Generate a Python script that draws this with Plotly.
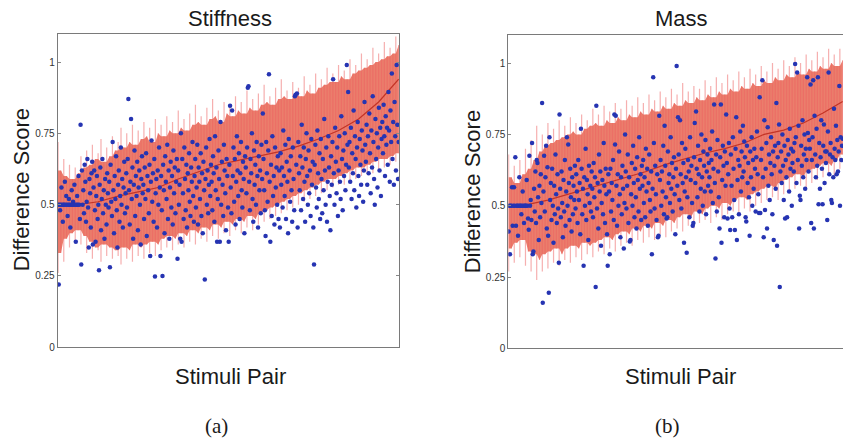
import numpy as np
import plotly.graph_objects as go

# ---------------- data ----------------
stiff_scores = [
    0.50, 0.22, 0.50, 0.48, 0.50, 0.56, 0.50, 0.44, 0.50, 0.50, 0.58, 0.50, 0.53, 0.50, 0.46, 0.50, 0.52, 0.50, 0.42, 0.50, 0.55, 0.50, 0.51, 0.50, 0.57,
    0.50, 0.37, 0.50, 0.53, 0.50, 0.60, 0.50, 0.45, 0.78, 0.29, 0.62, 0.50, 0.55, 0.47, 0.64, 0.58, 0.44, 0.51, 0.66, 0.49, 0.35, 0.59, 0.54, 0.42, 0.61,
    0.65, 0.36, 0.56, 0.62, 0.48, 0.37, 0.53, 0.60, 0.45, 0.50, 0.27, 0.57, 0.63, 0.41, 0.52, 0.66, 0.47, 0.55, 0.38, 0.59, 0.50, 0.43, 0.61, 0.54, 0.49,
    0.58, 0.28, 0.64, 0.51, 0.46, 0.72, 0.55, 0.40, 0.60, 0.52, 0.67, 0.48, 0.35, 0.57, 0.62, 0.44, 0.53, 0.70, 0.50, 0.59, 0.42, 0.56, 0.65, 0.47, 0.54,
    0.61, 0.49, 0.66, 0.87, 0.55, 0.43, 0.58, 0.80, 0.52, 0.63, 0.38, 0.57, 0.69, 0.46, 0.60, 0.53, 0.65, 0.41, 0.56, 0.62, 0.50, 0.36, 0.59, 0.67, 0.54,
    0.57, 0.45, 0.63, 0.52, 0.68, 0.39, 0.60, 0.55, 0.47, 0.64, 0.32, 0.58, 0.725, 0.51, 0.61, 0.44, 0.66, 0.248, 0.54, 0.59, 0.42, 0.62, 0.50, 0.70, 0.56,
    0.32, 0.60, 0.48, 0.25, 0.64, 0.55, 0.40, 0.67, 0.58, 0.52, 0.71, 0.45, 0.62, 0.38, 0.56, 0.65, 0.49, 0.60, 0.43, 0.69, 0.54, 0.63, 0.47, 0.58, 0.66,
    0.31, 0.62, 0.50, 0.57, 0.38, 0.75, 0.37, 0.66, 0.54, 0.45, 0.70, 0.59, 0.48, 0.64, 0.42, 0.61, 0.55, 0.68, 0.51, 0.46, 0.63, 0.58, 0.72, 0.53, 0.44,
    0.60, 0.66, 0.49, 0.56, 0.71, 0.43, 0.63, 0.58, 0.52, 0.68, 0.46, 0.61, 0.40, 0.65, 0.55, 0.237, 0.59, 0.70, 0.50, 0.62, 0.47, 0.57, 0.73, 0.53, 0.64,
    0.58, 0.48, 0.67, 0.61, 0.44, 0.74, 0.55, 0.63, 0.37, 0.52, 0.69, 0.59, 0.37, 0.79, 0.50, 0.65, 0.57, 0.46, 0.71, 0.62, 0.54, 0.41, 0.66, 0.60, 0.49,
    0.37, 0.64, 0.847, 0.56, 0.47, 0.83, 0.60, 0.70, 0.51, 0.66, 0.43, 0.58, 0.74, 0.62, 0.53, 0.68, 0.45, 0.61, 0.72, 0.55, 0.49, 0.65, 0.59, 0.40, 0.67,
    0.63, 0.54, 0.70, 0.91, 0.915, 0.58, 0.48, 0.66, 0.61, 0.75, 0.52, 0.44, 0.69, 0.57, 0.64, 0.50, 0.72, 0.60, 0.42, 0.67, 0.55, 0.62, 0.47, 0.71, 0.59,
    0.82, 0.66, 0.55, 0.48, 0.39, 0.72, 0.61, 0.51, 0.69, 0.957, 0.58, 0.37, 0.64, 0.46, 0.74, 0.53, 0.60, 0.43, 0.70, 0.56, 0.63, 0.50, 0.67, 0.45, 0.62,
    0.42, 0.68, 0.57, 0.63, 0.49, 0.76, 0.60, 0.53, 0.71, 0.45, 0.65, 0.58, 0.40, 0.73, 0.62, 0.51, 0.67, 0.55, 0.44, 0.70, 0.59, 0.48, 0.88, 0.885, 0.64,
    0.89, 0.42, 0.72, 0.61, 0.55, 0.67, 0.48, 0.78, 0.63, 0.52, 0.70, 0.58, 0.44, 0.66, 0.75, 0.60, 0.50, 0.69, 0.54, 0.62, 0.46, 0.73, 0.57, 0.65, 0.42,
    0.29, 0.64, 0.71, 0.56, 0.49, 0.76, 0.61, 0.52, 0.68, 0.45, 0.73, 0.59, 0.47, 0.66, 0.55, 0.80, 0.62, 0.50, 0.70, 0.44, 0.58, 0.74, 0.63, 0.53, 0.41,
    0.67, 0.57, 0.72, 0.94, 0.61, 0.50, 0.77, 0.65, 0.54, 0.70, 0.46, 0.62, 0.74, 0.58, 0.52, 0.81, 0.66, 0.48, 0.69, 0.60, 0.75, 0.55, 0.64, 0.99, 0.71,
    0.895, 0.63, 0.72, 0.58, 0.77, 0.52, 0.68, 0.61, 0.83, 0.55, 0.74, 0.66, 0.49, 0.70, 0.79, 0.60, 0.53, 0.73, 0.64, 0.57, 0.76, 0.69, 0.51, 0.62, 0.86,
    0.71, 0.65, 0.78, 0.57, 0.74, 0.61, 0.82, 0.68, 0.54, 0.76, 0.63, 0.88, 0.72, 0.59, 0.50, 0.80, 0.66, 0.75, 0.56, 0.70, 0.84, 0.62, 0.77, 0.53, 0.73,
    0.79, 0.68, 0.85, 0.74, 0.60, 0.81, 0.71, 0.77, 0.64, 0.895, 0.76, 0.58, 0.83, 0.72, 0.96, 0.66, 0.79, 0.57, 0.86, 0.74, 0.62, 0.99, 0.78, 0.59, 0.72,
]

stiff_band_hi = [
    0.72, 0.62, 0.66, 0.60, 0.64, 0.59, 0.63, 0.61, 0.67, 0.63,
    0.69, 0.64, 0.71, 0.66, 0.68, 0.73, 0.65, 0.70, 0.67, 0.74,
    0.69, 0.72, 0.77, 0.70, 0.75, 0.72, 0.78, 0.71, 0.76, 0.73,
    0.79, 0.74, 0.77, 0.72, 0.80, 0.75, 0.78, 0.74, 0.81, 0.76,
    0.79, 0.75, 0.83, 0.77, 0.80, 0.76, 0.82, 0.78, 0.85, 0.79,
    0.81, 0.78, 0.84, 0.80, 0.87, 0.81, 0.83, 0.79, 0.86, 0.82,
    0.85, 0.81, 0.88, 0.83, 0.86, 0.82, 0.90, 0.84, 0.87, 0.83,
    0.89, 0.85, 0.92, 0.86, 0.88, 0.85, 0.91, 0.87, 0.94, 0.88,
    0.90, 0.87, 0.93, 0.89, 0.91, 0.88, 0.95, 0.90, 0.92, 0.89,
    0.96, 0.91, 0.94, 0.92, 0.98, 0.93, 0.96, 0.93, 0.99, 0.95,
    0.97, 0.94, 1.01, 0.96, 0.99, 0.97, 1.03, 0.98, 1.01, 0.99,
    1.05, 1.00, 1.03, 1.01, 1.07, 1.02, 1.05, 1.03, 1.09, 1.06,
]
stiff_band_lo = [
    0.26, 0.33, 0.30, 0.38, 0.35, 0.40, 0.37, 0.41, 0.36, 0.39,
    0.33, 0.37, 0.31, 0.35, 0.34, 0.30, 0.36, 0.32, 0.35, 0.31,
    0.34, 0.32, 0.29, 0.35, 0.31, 0.34, 0.30, 0.36, 0.32, 0.35,
    0.31, 0.36, 0.33, 0.37, 0.32, 0.36, 0.34, 0.38, 0.35, 0.39,
    0.34, 0.38, 0.36, 0.40, 0.35, 0.39, 0.37, 0.41, 0.36, 0.40,
    0.38, 0.42, 0.37, 0.41, 0.39, 0.43, 0.38, 0.42, 0.40, 0.44,
    0.39, 0.43, 0.41, 0.45, 0.40, 0.44, 0.42, 0.46, 0.41, 0.45,
    0.43, 0.47, 0.44, 0.48, 0.45, 0.49, 0.46, 0.50, 0.47, 0.51,
    0.48, 0.52, 0.49, 0.53, 0.50, 0.54, 0.51, 0.55, 0.52, 0.56,
    0.53, 0.57, 0.54, 0.58, 0.55, 0.59, 0.56, 0.59, 0.57, 0.60,
    0.57, 0.61, 0.58, 0.62, 0.59, 0.63, 0.60, 0.63, 0.61, 0.64,
    0.61, 0.65, 0.62, 0.66, 0.63, 0.66, 0.64, 0.67, 0.65, 0.68,
]
stiff_mean = [0.50, 0.50, 0.51, 0.53, 0.545, 0.56, 0.59, 0.615, 0.64, 0.655, 0.67, 0.685, 0.705, 0.73, 0.76, 0.80, 0.86, 0.94]

mass_scores = [
    0.41, 0.50, 0.33, 0.50, 0.50, 0.565, 0.43, 0.50, 0.565, 0.50, 0.67, 0.43, 0.50, 0.50, 0.395, 0.50, 0.60, 0.50, 0.50, 0.47, 0.50, 0.55, 0.50, 0.44, 0.50,
    0.50, 0.50, 0.59, 0.50, 0.455, 0.416, 0.675, 0.50, 0.52, 0.45, 0.72, 0.33, 0.34, 0.56, 0.48, 0.62, 0.44, 0.66, 0.65, 0.53, 0.38, 0.57, 0.46, 0.61, 0.51,
    0.86, 0.16, 0.55, 0.675, 0.48, 0.60, 0.71, 0.42, 0.635, 0.395, 0.195, 0.74, 0.52, 0.58, 0.45, 0.63, 0.50, 0.37, 0.57, 0.47, 0.68, 0.54, 0.44, 0.61, 0.49,
    0.30, 0.82, 0.56, 0.46, 0.62, 0.51, 0.39, 0.59, 0.48, 0.66, 0.43, 0.55, 0.74, 0.50, 0.715, 0.58, 0.45, 0.63, 0.53, 0.41, 0.60, 0.47, 0.57, 0.52, 0.64,
    0.49, 0.61, 0.55, 0.44, 0.66, 0.52, 0.58, 0.40, 0.77, 0.63, 0.47, 0.56, 0.29, 0.60, 0.50, 0.70, 0.45, 0.59, 0.54, 0.38, 0.64, 0.51, 0.57, 0.48, 0.62,
    0.56, 0.46, 0.65, 0.53, 0.60, 0.215, 0.85, 0.49, 0.58, 0.42, 0.68, 0.55, 0.62, 0.36, 0.51, 0.59, 0.47, 0.72, 0.57, 0.44, 0.63, 0.54, 0.40, 0.29, 0.61,
    0.55, 0.33, 0.63, 0.48, 0.58, 0.52, 0.66, 0.45, 0.82, 0.715, 0.815, 0.57, 0.43, 0.61, 0.50, 0.69, 0.54, 0.39, 0.60, 0.47, 0.64, 0.56, 0.35, 0.51, 0.75,
    0.62, 0.49, 0.57, 0.68, 0.44, 0.60, 0.375, 0.38, 0.54, 0.65, 0.50, 0.71, 0.58, 0.46, 0.63, 0.53, 0.42, 0.67, 0.59, 0.48, 0.74, 0.56, 0.61, 0.45, 0.64,
    0.57, 0.66, 0.51, 0.60, 0.46, 0.70, 0.55, 0.63, 0.43, 0.58, 0.68, 0.52, 0.48, 0.62, 0.33, 0.56, 0.95, 0.72, 0.49, 0.64, 0.54, 0.45, 0.61, 0.39, 0.395,
    0.815, 0.59, 0.66, 0.50, 0.62, 0.55, 0.71, 0.47, 0.78, 0.64, 0.53, 0.455, 0.46, 0.69, 0.58, 0.61, 0.51, 0.74, 0.56, 0.65, 0.48, 0.60, 0.67, 0.54, 0.40,
    0.63, 0.99, 0.57, 0.81, 0.68, 0.52, 0.80, 0.61, 0.49, 0.72, 0.58, 0.65, 0.37, 0.55, 0.70, 0.60, 0.335, 0.53, 0.66, 0.62, 0.46, 0.74, 0.59, 0.64, 0.51,
    0.43, 0.44, 0.67, 0.79, 0.58, 0.83, 0.63, 0.53, 0.71, 0.61, 0.48, 0.66, 0.56, 0.75, 0.60, 0.50, 0.69, 0.64, 0.55, 0.73, 0.47, 0.62, 0.68, 0.57, 0.65,
    0.60, 0.70, 0.55, 0.66, 0.76, 0.51, 0.63, 0.855, 0.58, 0.315, 0.68, 0.48, 0.73, 0.62, 0.53, 0.42, 0.67, 0.855, 0.37, 0.59, 0.71, 0.64, 0.46, 0.69, 0.57,
    0.82, 0.65, 0.455, 0.61, 0.72, 0.49, 0.415, 0.68, 0.57, 0.46, 0.74, 0.63, 0.52, 0.415, 0.70, 0.81, 0.38, 0.59, 0.66, 0.47, 0.64, 0.76, 0.55, 0.69, 0.60,
    0.78, 0.62, 0.725, 0.67, 0.46, 0.445, 0.71, 0.58, 0.65, 0.53, 0.395, 0.69, 0.60, 0.74, 0.50, 0.66, 0.56, 0.70, 0.63, 0.48, 0.67, 0.76, 0.61, 0.54, 0.475,
    0.88, 0.475, 0.66, 0.70, 0.94, 0.60, 0.39, 0.80, 0.485, 0.63, 0.72, 0.42, 0.775, 0.57, 0.68, 0.52, 0.65, 0.74, 0.61, 0.47, 0.69, 0.38, 0.64, 0.71, 0.56,
    0.86, 0.36, 0.67, 0.72, 0.785, 0.215, 0.62, 0.69, 0.58, 0.75, 0.64, 0.52, 0.71, 0.455, 0.66, 0.60, 0.46, 0.73, 0.68, 0.55, 0.77, 0.63, 0.70, 0.50, 0.65,
    0.69, 0.62, 0.72, 0.997, 0.74, 0.58, 0.967, 0.66, 0.78, 0.42, 0.535, 0.52, 0.71, 0.64, 0.80, 0.60, 0.68, 0.75, 0.56, 0.70, 0.66, 0.95, 0.755, 0.62, 0.73,
    0.70, 0.925, 0.44, 0.66, 0.74, 0.94, 0.42, 0.815, 0.68, 0.60, 0.77, 0.64, 0.95, 0.505, 0.72, 0.56, 0.67, 0.80, 0.63, 0.505, 0.71, 0.785, 0.58, 0.69, 0.65,
    0.69, 0.45, 0.76, 0.967, 0.61, 0.68, 0.72, 0.52, 0.51, 0.67, 0.60, 0.84, 0.70, 0.66, 0.78, 0.61, 0.73, 0.62, 0.69, 0.92, 0.50, 0.74, 0.66, 0.71, 0.735,
]

mass_band_hi = [
    0.68, 0.60, 0.64, 0.58, 0.66, 0.61, 0.70, 0.63, 0.73, 0.66,
    0.78, 0.69, 0.75, 0.71, 0.79, 0.72, 0.77, 0.73, 0.80, 0.74,
    0.78, 0.75, 0.81, 0.76, 0.79, 0.75, 0.82, 0.77, 0.80, 0.78,
    0.84, 0.79, 0.82, 0.78, 0.85, 0.80, 0.83, 0.79, 0.86, 0.81,
    0.84, 0.80, 0.87, 0.82, 0.85, 0.81, 0.88, 0.83, 0.86, 0.82,
    0.89, 0.84, 0.87, 0.83, 0.90, 0.85, 0.88, 0.84, 0.91, 0.86,
    0.89, 0.85, 0.93, 0.87, 0.90, 0.86, 0.92, 0.88, 0.91, 0.87,
    0.94, 0.89, 0.92, 0.88, 0.95, 0.90, 0.93, 0.89, 0.96, 0.91,
    0.94, 0.90, 0.97, 0.92, 0.95, 0.91, 0.98, 0.93, 0.96, 0.92,
    0.99, 0.94, 0.97, 0.93, 1.00, 0.95, 0.98, 0.94, 1.01, 0.96,
    0.99, 0.95, 1.02, 0.97, 1.00, 0.96, 1.03, 0.98, 1.01, 0.97,
    1.04, 0.99, 1.02, 0.98, 1.05, 1.00, 1.03, 0.99, 1.05, 1.01,
]
mass_band_lo = [
    0.27, 0.35, 0.30, 0.37, 0.32, 0.38, 0.29, 0.34, 0.27, 0.33,
    0.24, 0.31, 0.27, 0.33, 0.28, 0.34, 0.30, 0.35, 0.29, 0.33,
    0.31, 0.35, 0.30, 0.36, 0.32, 0.35, 0.31, 0.37, 0.33, 0.36,
    0.32, 0.37, 0.34, 0.38, 0.33, 0.39, 0.35, 0.38, 0.34, 0.40,
    0.36, 0.41, 0.37, 0.40, 0.36, 0.42, 0.38, 0.41, 0.37, 0.43,
    0.39, 0.42, 0.38, 0.44, 0.40, 0.43, 0.39, 0.45, 0.41, 0.44,
    0.42, 0.46, 0.41, 0.47, 0.43, 0.46, 0.42, 0.48, 0.44, 0.47,
    0.45, 0.49, 0.44, 0.50, 0.46, 0.49, 0.45, 0.51, 0.47, 0.50,
    0.48, 0.52, 0.47, 0.53, 0.49, 0.52, 0.48, 0.54, 0.50, 0.55,
    0.51, 0.56, 0.52, 0.57, 0.53, 0.56, 0.52, 0.58, 0.54, 0.59,
    0.55, 0.60, 0.56, 0.61, 0.57, 0.60, 0.56, 0.62, 0.58, 0.63,
    0.59, 0.64, 0.60, 0.65, 0.61, 0.64, 0.60, 0.66, 0.63, 0.68,
]
mass_mean = [0.50, 0.505, 0.52, 0.54, 0.56, 0.58, 0.60, 0.62, 0.645, 0.665, 0.685, 0.70, 0.72, 0.75, 0.765, 0.79, 0.825, 0.865]

y_ticks = [0, 0.25, 0.5, 0.75, 1]
y_tick_labels = ["0", "0.25", "0.5", "0.75", "1"]

panel_titles = ["Stiffness", "Mass"]
x_title = "Stimuli Pair"
y_title = "Difference Score"
captions = ["(a)", "(b)"]

# ---------------- figure ----------------
W, H = 843, 440
BAND_CORE = "rgb(235,126,108)"
BAND_HAIR = "rgba(238,96,96,0.5)"
DOT = "rgb(38,52,178)"
MEAN = "rgb(196,52,38)"

fig = go.Figure()


def add_panel(scores, hi, lo, mean, xa, ya):
    n = len(scores)
    idx = np.arange(n)
    hi = np.asarray(hi, float)
    lo = np.asarray(lo, float)
    bx = np.linspace(0, n - 1, len(hi))
    # solid core: the inner envelope of neighbouring whiskers
    core_hi = np.minimum.reduce([hi, np.r_[hi[0], hi[:-1]], np.r_[hi[1:], hi[-1]]])
    core_lo = np.maximum.reduce([lo, np.r_[lo[0], lo[:-1]], np.r_[lo[1:], lo[-1]]])
    fig.add_trace(go.Scatter(
        x=np.concatenate([bx, bx[::-1]]), y=np.concatenate([core_hi, core_lo[::-1]]),
        fill="toself", fillcolor=BAND_CORE, mode="lines",
        line=dict(color=BAND_CORE, width=0), hoverinfo="skip",
        xaxis=xa, yaxis=ya, showlegend=False))
    # the individual whiskers stick out of the core as fine hairs
    vx, vy = [], []
    for xv, h, l in zip(bx, hi, lo):
        vx += [xv, xv, None]
        vy += [l, h, None]
    fig.add_trace(go.Scatter(
        x=vx, y=vy, mode="lines", line=dict(color=BAND_HAIR, width=1.2),
        hoverinfo="skip", xaxis=xa, yaxis=ya, showlegend=False))
    mx = np.linspace(0, n - 1, len(mean))
    fig.add_trace(go.Scatter(
        x=mx, y=mean, mode="lines", line=dict(color=MEAN, width=1.2),
        xaxis=xa, yaxis=ya, showlegend=False, hoverinfo="skip"))
    fig.add_trace(go.Scatter(
        x=idx, y=scores, mode="markers",
        marker=dict(color=DOT, size=4.5, line=dict(width=0)),
        xaxis=xa, yaxis=ya, showlegend=False))
    return n


n1 = add_panel(stiff_scores, stiff_band_hi, stiff_band_lo, stiff_mean, "x", "y")
n2 = add_panel(mass_scores, mass_band_hi, mass_band_lo, mass_mean, "x2", "y2")

axis_line = "#7a7a7a"
tickfont = dict(family="Liberation Sans, Arial, sans-serif", size=10, color="#333")

common_y = dict(range=[0, 1.1], tickvals=y_ticks, ticktext=y_tick_labels,
                ticks="inside", ticklen=3, tickcolor="#888", tickwidth=1,
                showline=True, linecolor=axis_line, linewidth=1,
                showgrid=False, zeroline=False, tickfont=tickfont)
common_x = dict(showticklabels=False, ticks="", showline=True, linecolor=axis_line,
                linewidth=1, mirror=True, showgrid=False, zeroline=False)


def fx(px):
    return px / W


def fy(py):
    return 1 - py / H


fig.update_layout(
    width=W, height=H, margin=dict(l=0, r=0, t=0, b=0),
    paper_bgcolor="white", plot_bgcolor="white",
    xaxis=dict(domain=[fx(57.7), fx(399)], range=[-0.5, n1 - 0.5], anchor="y", **common_x),
    yaxis=dict(domain=[fy(352), fy(34)], anchor="x", mirror="ticks", **common_y),
    xaxis2=dict(domain=[fx(508.3), 1.0], range=[-0.5, n2 - 0.5], anchor="y2", **common_x),
    yaxis2=dict(domain=[fy(353.3), fy(35)], anchor="x2", mirror=False, **common_y),
)

sans = "Liberation Sans, Arial, Helvetica, sans-serif"
serif = "Liberation Serif, Times New Roman, serif"


def txt(s, px, py, size, family=sans, angle=0):
    fig.add_annotation(text=s, x=fx(px), y=fy(py), xref="paper", yref="paper",
                       xanchor="center", yanchor="middle", showarrow=False, textangle=angle,
                       font=dict(family=family, size=size, color="#1a1a1a"))


txt(panel_titles[0], 230, 19, 22)
txt(panel_titles[1], 681, 19, 22)
txt(y_title, 21, 193, 22, angle=-90)
txt(y_title, 472, 195, 22, angle=-90)
txt(x_title, 230, 382, 22)
txt(x_title, 680, 382, 22)
txt(captions[0], 216, 432, 21, family=serif)
txt(captions[1], 667, 432, 21, family=serif)

# remove the browser's default 8px page margin so the figure fills the window
fig.write_html(
    "out.html",
    config={"displayModeBar": False, "staticPlot": True},
    post_script="document.body.style.margin='0';document.body.style.overflow='hidden';",
)
